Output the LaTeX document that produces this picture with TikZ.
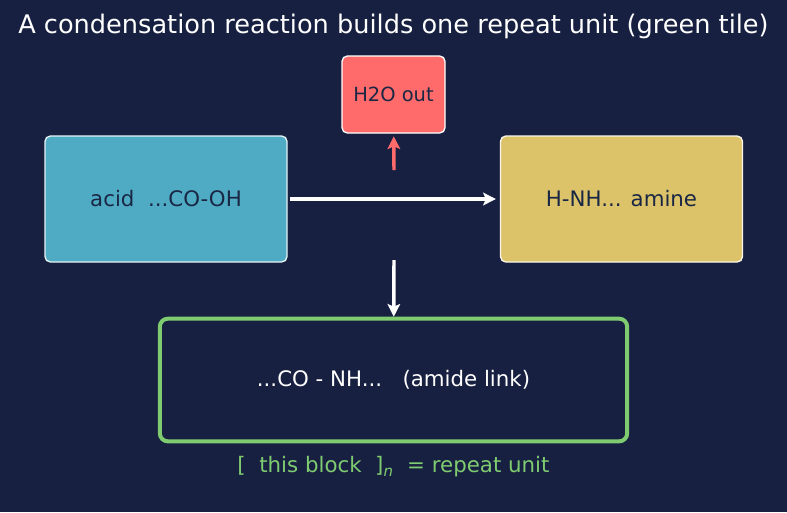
\documentclass[tikz,border=0pt]{standalone}
\usepackage{fontspec}
\setmainfont{DejaVu Sans}
\usetikzlibrary{arrows.meta}

\definecolor{bgnavy}{HTML}{172041}
\definecolor{acidblue}{HTML}{4FABC4}
\definecolor{aminegold}{HTML}{DCC36A}
\definecolor{waterred}{HTML}{FF6B6B}
\definecolor{tilegreen}{HTML}{7FCB70}
\definecolor{inkdark}{HTML}{1A2744}

\tikzset{
  molbox/.style={rectangle,rounded corners=4pt,draw=white!85!acidblue,line width=1pt,
    minimum width=181.5pt,minimum height=94.5pt,text=inkdark,font=\fontsize{16pt}{19pt}\selectfont},
  flow/.style={-{Stealth[length=9.5pt,width=9.5pt,inset=2pt]},line width=2.6pt,white}
}

\begin{document}
\begin{tikzpicture}[x=0.75pt,y=-0.75pt]
        \fill[bgnavy] (0,0) rectangle (787,512);
        \useasboundingbox (0,0) rectangle (787,512);

        \node (title) at (393.5,26.5) [text=white,font=\fontsize{19.2pt}{23pt}\selectfont] {A condensation reaction builds one repeat unit (green tile)};

        \node (acid) at (166,199) [molbox,fill=acidblue] {acid\ \ ...CO-OH};
        \node (amine) at (621.5,199) [molbox,fill=aminegold,draw=white!85!aminegold] {H-NH... amine};
        \node (water) at (393.5,94.5) [rectangle,rounded corners=4pt,draw=white,line width=1pt,fill=waterred,
          minimum width=77.25pt,minimum height=57.75pt,text=inkdark,font=\fontsize{14.6pt}{17pt}\selectfont] {H2O out};
        \node (amide) at (393.5,380) [rectangle,rounded corners=6pt,draw=tilegreen,line width=3pt,
          minimum width=350.5pt,minimum height=92pt,text=white,font=\fontsize{16pt}{19pt}\selectfont] {...CO - NH...\ \ \ (amide link)};
        \node (note) at (393.5,467) [text=tilegreen,font=\fontsize{16pt}{19pt}\selectfont] {[\ \ this block\ \ ]\textsubscript{\itshape n}\ \ = repeat unit};

        \coordinate (vent) at (394,170);
        \coordinate (join) at (394,260);

        \draw[flow,shorten <=2pt,shorten >=3pt] (acid) -- (amine);
        \draw[flow,waterred,shorten >=2pt] (vent) -- (water);
        \draw[flow] (join) -- (amide);
    \end{tikzpicture}
\end{document}
